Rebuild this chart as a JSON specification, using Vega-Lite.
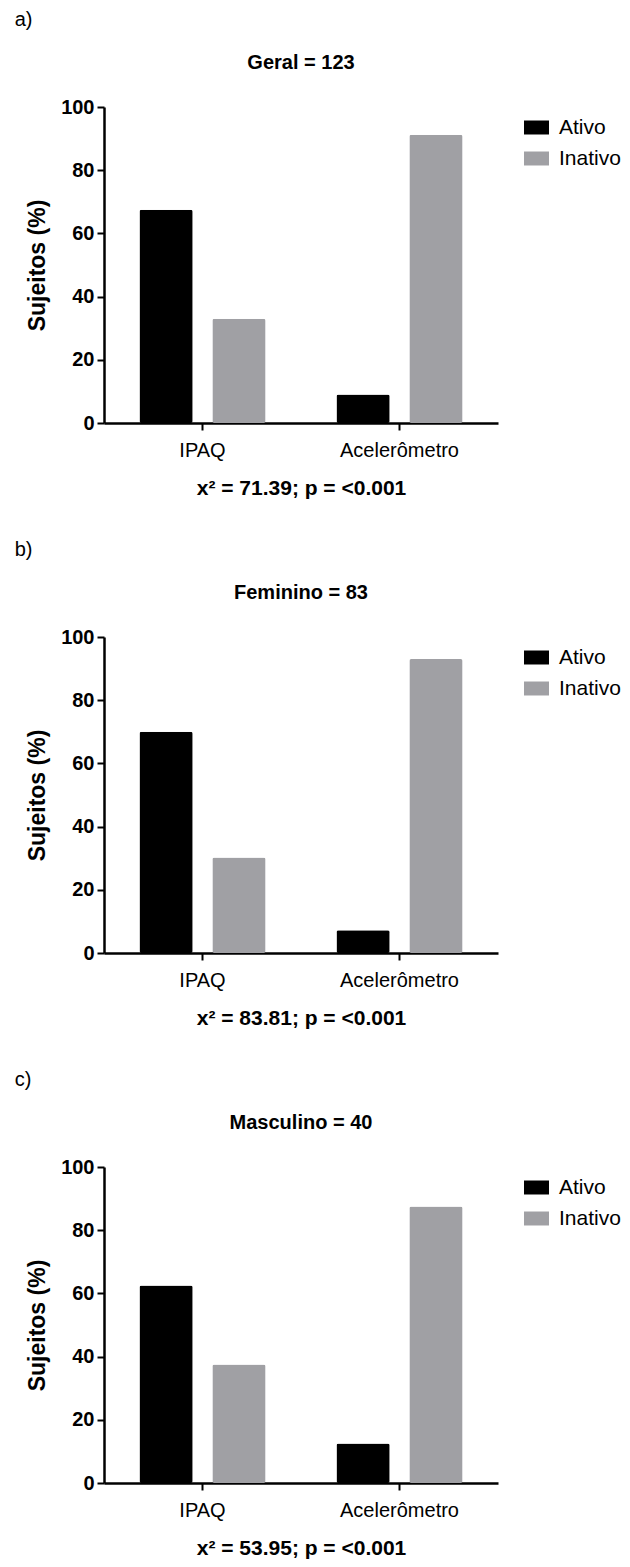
{
  "$schema": "https://vega.github.io/schema/vega-lite/v6.json",
  "background": "white",
  "padding": {"left": 14, "top": 10, "right": 5, "bottom": 5},
  "config": {
    "font": "Liberation Sans, Arial",
    "view": {"stroke": null},
    "axis": {
      "domainColor": "#000000",
      "domainWidth": 2.5,
      "tickColor": "#000000",
      "tickWidth": 2,
      "tickSize": 7,
      "grid": false,
      "labelColor": "#000000",
      "labelFontSize": 20,
      "labelFontWeight": "bold",
      "titleColor": "#000000",
      "titleFontWeight": "bold"
    },
    "title": {"color": "#000000"},
    "legend": {"labelColor": "#000000"}
  },
  "datasets": {
    "geral": [
      {"metodo": "IPAQ", "nivel": "Ativo", "pct": 67.5},
      {"metodo": "IPAQ", "nivel": "Inativo", "pct": 33},
      {"metodo": "Acelerômetro", "nivel": "Ativo", "pct": 9},
      {"metodo": "Acelerômetro", "nivel": "Inativo", "pct": 91.2}
    ],
    "feminino": [
      {"metodo": "IPAQ", "nivel": "Ativo", "pct": 70},
      {"metodo": "IPAQ", "nivel": "Inativo", "pct": 30.2},
      {"metodo": "Acelerômetro", "nivel": "Ativo", "pct": 7.2},
      {"metodo": "Acelerômetro", "nivel": "Inativo", "pct": 93}
    ],
    "masculino": [
      {"metodo": "IPAQ", "nivel": "Ativo", "pct": 62.5},
      {"metodo": "IPAQ", "nivel": "Inativo", "pct": 37.5},
      {"metodo": "Acelerômetro", "nivel": "Ativo", "pct": 12.5},
      {"metodo": "Acelerômetro", "nivel": "Inativo", "pct": 87.5}
    ]
  },
  "spacing": 42,
  "resolve": {"scale": {"color": "independent"}, "legend": {"color": "independent"}},
  "vconcat": [
    {
      "title": {"text": "a)", "anchor": "start", "fontSize": 20, "fontWeight": "normal", "dx": -12, "offset": 23},
      "vconcat": [
        {
          "width": 394, "height": 316,
          "data": {"name": "geral"},
          "title": {"text": "Geral = 123", "fontSize": 20, "fontWeight": "bold", "offset": 24},
          "mark": {"type": "bar", "cornerRadius": 2},
          "encoding": {
            "x": {"field": "metodo", "type": "nominal", "sort": ["IPAQ", "Acelerômetro"],
              "scale": {"paddingInner": 0.36, "paddingOuter": 0.18},
              "axis": {"title": "x² = 71.39; p = <0.001", "labelAngle": 0, "labelFontWeight": "normal", "labelPadding": 10, "titleFontSize": 21, "titlePadding": 17}},
            "xOffset": {"field": "nivel", "sort": ["Ativo", "Inativo"], "scale": {"paddingInner": 0.27}},
            "y": {"field": "pct", "type": "quantitative", "scale": {"domain": [0, 100]},
              "axis": {"title": "Sujeitos (%)", "values": [0, 20, 40, 60, 80, 100], "titleFontSize": 23, "titlePadding": 11, "labelPadding": 3}},
            "color": {"field": "nivel", "type": "nominal",
              "scale": {"domain": ["Ativo", "Inativo"], "range": ["#000000", "#a0a0a4"]},
              "legend": {"title": null, "orient": "right", "offset": 18, "symbolType": "M-1,-0.56H1V0.56H-1Z", "symbolSize": 625, "symbolStrokeWidth": 0, "symbolOpacity": 1, "labelFontSize": 21, "labelOffset": 10, "rowPadding": 8, "padding": 8}}
          }
        }
      ]
    },
    {
      "title": {"text": "b)", "anchor": "start", "fontSize": 20, "fontWeight": "normal", "dx": -12, "offset": 23},
      "vconcat": [
        {
          "width": 394, "height": 316,
          "data": {"name": "feminino"},
          "title": {"text": "Feminino = 83", "fontSize": 20, "fontWeight": "bold", "offset": 24},
          "mark": {"type": "bar", "cornerRadius": 2},
          "encoding": {
            "x": {"field": "metodo", "type": "nominal", "sort": ["IPAQ", "Acelerômetro"],
              "scale": {"paddingInner": 0.36, "paddingOuter": 0.18},
              "axis": {"title": "x² = 83.81; p = <0.001", "labelAngle": 0, "labelFontWeight": "normal", "labelPadding": 10, "titleFontSize": 21, "titlePadding": 17}},
            "xOffset": {"field": "nivel", "sort": ["Ativo", "Inativo"], "scale": {"paddingInner": 0.27}},
            "y": {"field": "pct", "type": "quantitative", "scale": {"domain": [0, 100]},
              "axis": {"title": "Sujeitos (%)", "values": [0, 20, 40, 60, 80, 100], "titleFontSize": 23, "titlePadding": 11, "labelPadding": 3}},
            "color": {"field": "nivel", "type": "nominal",
              "scale": {"domain": ["Ativo", "Inativo"], "range": ["#000000", "#a0a0a4"]},
              "legend": {"title": null, "orient": "right", "offset": 18, "symbolType": "M-1,-0.56H1V0.56H-1Z", "symbolSize": 625, "symbolStrokeWidth": 0, "symbolOpacity": 1, "labelFontSize": 21, "labelOffset": 10, "rowPadding": 8, "padding": 8}}
          }
        }
      ]
    },
    {
      "title": {"text": "c)", "anchor": "start", "fontSize": 20, "fontWeight": "normal", "dx": -12, "offset": 23},
      "vconcat": [
        {
          "width": 394, "height": 316,
          "data": {"name": "masculino"},
          "title": {"text": "Masculino = 40", "fontSize": 20, "fontWeight": "bold", "offset": 24},
          "mark": {"type": "bar", "cornerRadius": 2},
          "encoding": {
            "x": {"field": "metodo", "type": "nominal", "sort": ["IPAQ", "Acelerômetro"],
              "scale": {"paddingInner": 0.36, "paddingOuter": 0.18},
              "axis": {"title": "x² = 53.95; p = <0.001", "labelAngle": 0, "labelFontWeight": "normal", "labelPadding": 10, "titleFontSize": 21, "titlePadding": 17}},
            "xOffset": {"field": "nivel", "sort": ["Ativo", "Inativo"], "scale": {"paddingInner": 0.27}},
            "y": {"field": "pct", "type": "quantitative", "scale": {"domain": [0, 100]},
              "axis": {"title": "Sujeitos (%)", "values": [0, 20, 40, 60, 80, 100], "titleFontSize": 23, "titlePadding": 11, "labelPadding": 3}},
            "color": {"field": "nivel", "type": "nominal",
              "scale": {"domain": ["Ativo", "Inativo"], "range": ["#000000", "#a0a0a4"]},
              "legend": {"title": null, "orient": "right", "offset": 18, "symbolType": "M-1,-0.56H1V0.56H-1Z", "symbolSize": 625, "symbolStrokeWidth": 0, "symbolOpacity": 1, "labelFontSize": 21, "labelOffset": 10, "rowPadding": 8, "padding": 8}}
          }
        }
      ]
    }
  ]
}
